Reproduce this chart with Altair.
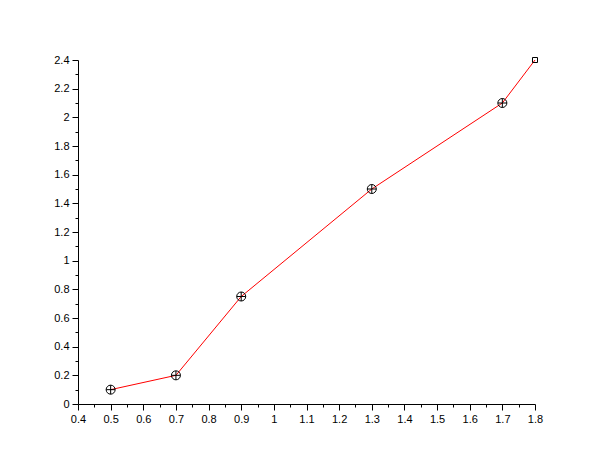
import altair as alt
import pandas as pd

xs = [0.5, 0.7, 0.9, 1.3, 1.7, 1.8]
ys = [0.1, 0.2, 0.75, 1.5, 2.1, 2.4]
kinds = ["circle", "circle", "circle", "circle", "circle", "square"]

x_ticks = [round(0.4 + 0.05 * i, 2) for i in range(29)]
y_ticks = [round(0.1 * i, 2) for i in range(25)]

df = pd.DataFrame({"x": xs, "y": ys, "kind": kinds})

xscale = alt.Scale(domain=[0.4, 1.8], nice=False, zero=False)
yscale = alt.Scale(domain=[0, 2.4], nice=False, zero=False)

x_axis = alt.Axis(
    values=x_ticks, format="~g", title=None, grid=False,
    labelExpr="round(datum.value*20) % 2 == 1 ? '' : datum.label",
    tickSize={"condition": {"test": "round(datum.value*20) % 2 == 1", "value": 3}, "value": 6},
    labelOverlap=False, labelFlush=False, domainColor="black", tickColor="black",
    labelColor="black", labelFont="Liberation Sans", labelFontSize=11, labelPadding=3,
)
y_axis = alt.Axis(
    values=y_ticks, format="~g", title=None, grid=False,
    labelExpr="round(datum.value*10) % 2 == 1 ? '' : datum.label",
    tickSize={"condition": {"test": "round(datum.value*10) % 2 == 1", "value": 3}, "value": 6},
    labelOverlap=False, labelFlush=False, domainColor="black", tickColor="black",
    labelColor="black", labelFont="Liberation Sans", labelFontSize=11, labelPadding=3,
)

base = alt.Chart(df).encode(
    x=alt.X("x:Q", scale=xscale, axis=x_axis),
    y=alt.Y("y:Q", scale=yscale, axis=y_axis),
)

line = base.mark_line(color="red", strokeWidth=1)

circles = base.transform_filter("datum.kind == 'circle'").mark_point(
    shape="circle", size=81, filled=False, color="black", strokeWidth=1, opacity=1
)
pluses = base.transform_filter("datum.kind == 'circle'").mark_point(
    shape="M-1,0L1,0M0,-1L0,1", size=81, filled=False, color="black", strokeWidth=1, opacity=1
)
squares = base.transform_filter("datum.kind == 'square'").mark_point(
    shape="square", size=25, filled=False, color="black", strokeWidth=1, opacity=1
)

chart = alt.layer(line, circles, pluses, squares).properties(
    width=457, height=344,
    autosize=alt.AutoSizeParams(type="none"),
    padding={"left": 70, "top": 52, "right": 71, "bottom": 53},
    background="white",
).configure_view(stroke=None)

chart.save("out.html", embed_options={"renderer": "svg", "actions": False})
